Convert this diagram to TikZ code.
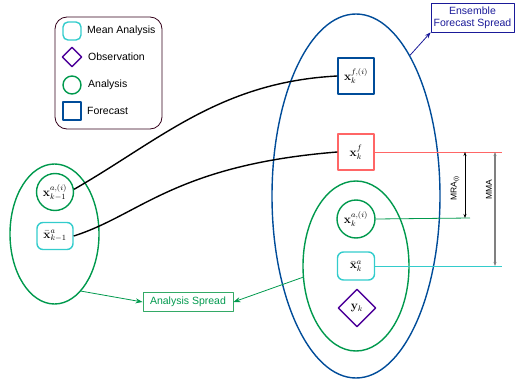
\documentclass[tikz,border=0pt]{standalone}
\usepackage[no-math]{fontspec}
\setmainfont{Liberation Sans}
\usetikzlibrary{shapes.geometric,arrows.meta}
\definecolor{cgreen}{HTML}{00994D}
\definecolor{ccyan}{HTML}{33CCCC}
\definecolor{cblue}{HTML}{004C99}
\definecolor{cpurple}{HTML}{4C0099}
\definecolor{cred}{HTML}{FF6666}
\definecolor{cmaroon}{HTML}{33001A}
\definecolor{cnavy}{HTML}{1A1A99}
\definecolor{clgreen}{HTML}{33AA66}
\definecolor{cgray}{HTML}{808080}
\begin{document}
\begin{tikzpicture}[x=1pt,y=-1pt,line join=round,
  mathfont/.style={font=\fontsize{12}{14}\selectfont},
  anal/.style={circle,draw=cgreen,line width=1.4pt,minimum size=37pt,inner sep=0pt,mathfont},
  meanan/.style={rectangle,rounded corners=6pt,draw=ccyan,line width=1.4pt,minimum width=36pt,minimum height=27pt,inner sep=0pt,mathfont},
  fcst/.style={rectangle,draw=cblue,line width=1.4pt,minimum size=36pt,inner sep=0pt,mathfont},
  meanf/.style={rectangle,draw=cred,line width=1.4pt,minimum size=36pt,inner sep=0pt,mathfont},
  obs/.style={diamond,draw=cpurple,line width=1.4pt,minimum size=38pt,inner sep=0pt,mathfont},
  spread/.style={ellipse,line width=1.4pt,inner sep=0pt},
  legtext/.style={anchor=west,inner sep=0pt,font=\fontsize{10.5}{12}\selectfont},
  curve/.style={line width=1.4pt,black},
  garrow/.style={draw=cgreen,line width=0.8pt,-{Stealth[length=7pt,width=5pt]}},
  dimarrow/.style={{Stealth[length=4pt,width=3pt]}-{Stealth[length=4pt,width=3pt]}},
  lbl/.style={rotate=90,font=\fontsize{8.5}{10}\selectfont,inner sep=0pt}]
\useasboundingbox (0,0) rectangle (515,383);

% legend
\node[draw=cmaroon,line width=0.8pt,rounded corners=12pt,minimum width=107pt,minimum height=112pt,inner sep=0pt] (legend) at (108.5,73) {};
\node[meanan,minimum width=18pt,minimum height=18pt,rounded corners=5pt] (lma) at (72,31) {};
\node[legtext] (lmat) at (87,31) {Mean Analysis};
\node[obs,minimum size=20pt] (lob) at (72,57) {};
\node[legtext] (lobt) at (88,57) {Observation};
\node[anal,minimum size=18pt] (lan) at (72,85) {};
\node[legtext] (lant) at (88,85) {Analysis};
\node[fcst,minimum size=18pt] (lfc) at (72,111) {};
\node[legtext] (lfct) at (87,111) {Forecast};

% ellipses
\node[spread,draw=cblue,minimum width=168pt,minimum height=364pt] (bigE) at (356,196) {};
\node[spread,draw=cgreen,minimum width=106pt,minimum height=170pt] (rightE) at (356,266) {};
\node[spread,draw=cgreen,minimum width=89pt,minimum height=140pt] (leftE) at (54.5,234) {};

% left nodes
\node[anal] (xa1) at (55,192) {$\mathbf{x}_{k-1}^{a,(i)}$};
\node[meanan] (xm1) at (55,236) {$\bar{\mathbf{x}}_{k-1}^{a}$};

% right nodes
\node[fcst] (xf) at (356,76) {$\mathbf{x}_{k}^{f,(i)}$};
\node[meanf] (xfm) at (356,152) {$\mathbf{x}_{k}^{f}$};
\node[anal,minimum size=38pt] (xa) at (356,219) {$\mathbf{x}_{k}^{a,(i)}$};
\node[meanan,minimum width=37pt,minimum height=28pt] (xm) at (356,266) {$\bar{\mathbf{x}}_{k}^{a}$};
\node[obs] (y) at (357,308) {$\mathbf{y}_k$};

% label boxes
\node[draw=cnavy,line width=0.8pt,text=cnavy,align=center,inner sep=0pt,minimum width=83pt,minimum height=29pt,font=\fontsize{10.5}{12}\selectfont] (ens) at (472.5,17.5) {Ensemble\\Forecast Spread};
\node[draw=clgreen,line width=0.8pt,text=cgreen,inner sep=0pt,minimum width=90pt,minimum height=19pt,font=\fontsize{10.5}{12}\selectfont] (asp) at (188,302) {Analysis Spread};

% curves
\draw[curve] (xa1.8) .. controls (160,140) and (220,82) .. (xf.west);
\draw[curve] (xm1.east) .. controls (140,215) and (175,165) .. (xfm.west);

% spread arrows
\draw[draw=cnavy,line width=0.8pt,-{Stealth[length=6pt,width=4.5pt]}] (bigE.69) -- (ens.south west);
\draw[garrow] (leftE.-65) -- (asp.west);
\draw[garrow] (rightE.192) -- (asp.east);

% horizontal reference lines
\coordinate (rEnd) at (502,152);
\coordinate (gEnd) at (470,218);
\coordinate (cEnd) at (502,266);
\draw[cred,line width=0.8pt] (xfm.east) -- (rEnd);
\draw[cgreen,line width=0.8pt] (xa.east) -- (gEnd);
\draw[ccyan,line width=0.8pt] (xm.east) -- (cEnd);

% dimension arrows
\coordinate (mraT) at (465,152);
\coordinate (mraB) at (465,218);
\coordinate (mmaT) at (495,152);
\coordinate (mmaB) at (495,266);
\draw[dimarrow,line width=0.8pt] (mraT) -- (mraB);
\draw[dimarrow,line width=1.3pt,cgray] (mmaT) -- (mmaB);
\node[lbl] (mral) at (455,188) {MRA\textsubscript{(i)}};
\node[lbl] (mmal) at (489,190) {MMA};
\end{tikzpicture}
\end{document}
